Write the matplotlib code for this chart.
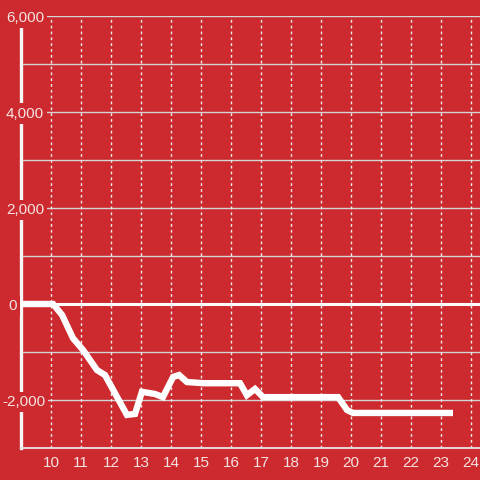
import matplotlib
matplotlib.use("Agg")
import matplotlib.pyplot as plt

hours = [9.0, 10.07, 10.37, 10.73, 11.07, 11.53, 11.8, 12.53, 12.8, 13.03, 13.47,
         13.73, 14.07, 14.27, 14.53, 15.07, 16.3, 16.53, 16.8, 17.07, 19.57,
         19.87, 20.07, 23.4]
values = [0, 0, -230, -710, -960, -1375, -1480, -2310, -2290, -1830, -1875,
          -1940, -1520, -1480, -1625, -1650, -1650, -1900, -1770, -1940, -1940,
          -2210, -2270, -2270]
xticks = list(range(10, 25))
yticks = [-2000, 0, 2000, 4000, 6000]
ylabels = ["-2,000", "0", "2,000", "4,000", "6,000"]
ylabel_left_px = [2, 8, 6, 6, 6]

RED = "#cc2a2f"
TXT = "#f5e2e2"
DPI = 100
FS = 11
fig = plt.figure(figsize=(4.8, 4.8), dpi=DPI, facecolor=RED)
ax = fig.add_axes([21/480, 32/480, 459/480, 432/480], facecolor=RED)
ax.set_xlim(9, 24.3)
ax.set_ylim(-3000, 6000)

# gridlines
for yv in range(-2000, 6001, 1000):
    if yv == 0:
        continue
    ax.axhline(yv, color="#d4d4d4", lw=1.0, zorder=1)
for xv in xticks:
    ax.axvline(xv, color="#ececec", lw=1.0, ls=(0, (2, 2.2)), zorder=1)
ax.axhline(0, color="white", lw=2.2, zorder=2)

for s in ["top", "right"]:
    ax.spines[s].set_visible(False)
ax.spines["left"].set_color("#f6f6f6")
ax.spines["left"].set_linewidth(2.4)
ax.spines["left"].set_zorder(2)
ax.spines["bottom"].set_color("#e6e6e6")
ax.spines["bottom"].set_linewidth(1.3)

ax.set_xticks(xticks)
ax.set_xticklabels([str(x) for x in xticks])
ax.tick_params(axis="x", length=0, pad=5.5, labelsize=FS, labelcolor=TXT)
ax.set_yticks([])
for lbl in ax.get_xticklabels():
    lbl.set_family("Liberation Sans")

px2pt = 72.0 / DPI
for yv, lab, lpx in zip(yticks, ylabels, ylabel_left_px):
    ax.annotate(lab, xy=(9.0, yv), xycoords="data",
                xytext=((lpx - 21) * px2pt, -4.0), textcoords="offset points",
                ha="left", va="baseline", fontsize=FS, color=TXT,
                family="Liberation Sans", zorder=3, annotation_clip=False,
                bbox=dict(facecolor=RED, edgecolor="none", pad=2.2))

ax.plot(hours, values, color="white", lw=4.6, solid_joinstyle="miter",
        solid_capstyle="butt", zorder=4, clip_on=False)

fig.savefig("out.png", dpi=DPI, facecolor=RED)
